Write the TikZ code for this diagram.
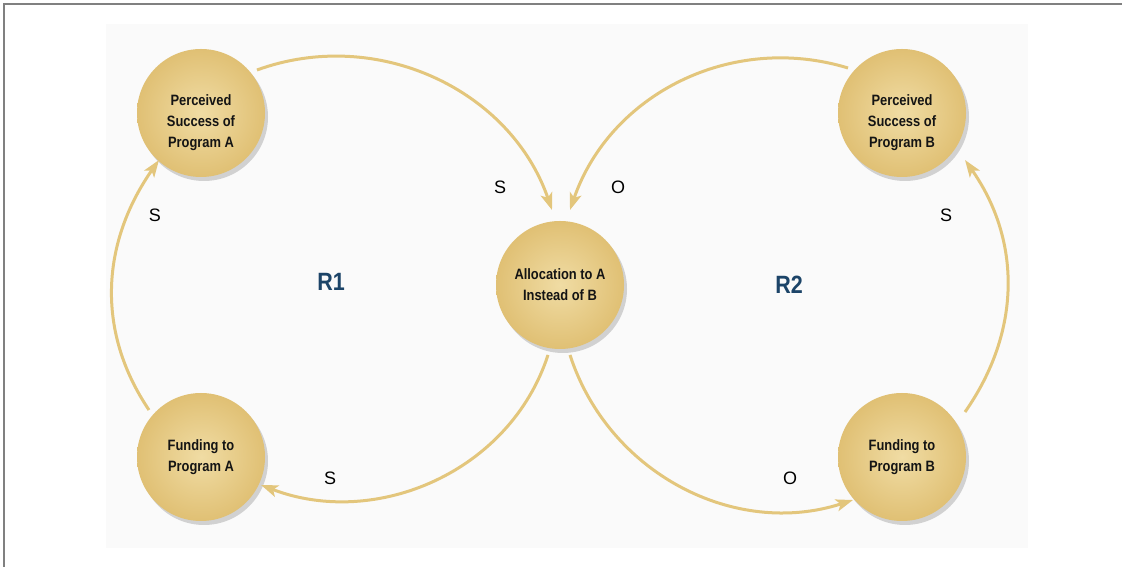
\documentclass[tikz,border=0pt]{standalone}
\usepackage{fontspec}
\setmainfont{Liberation Sans}
\newfontfamily\condfont{Liberation Sans}[FakeStretch=0.86]
\usetikzlibrary{arrows.meta,shadows,calc}
\definecolor{arrowgold}{HTML}{E3C67C}
\definecolor{goldin}{HTML}{F0DCA4}
\definecolor{goldout}{HTML}{E0C074}
\definecolor{panelbg}{HTML}{FAFAFA}
\definecolor{rblue}{HTML}{1C4468}
\tikzset{
  loopnode/.style={circle, minimum size=128pt, inner sep=0pt,
    inner color=goldin, outer color=goldout,
    drop shadow={shadow xshift=3pt, shadow yshift=-4pt, fill=black, opacity=0.16},
    align=center, text=black!92, font=\condfont\bfseries\fontsize{15}{21}\selectfont},
  nodetext/.style={align=center, text=black!92, font=\condfont\bfseries\fontsize{15}{21}\selectfont},
  conn/.style={draw=arrowgold, line width=3pt, -{Stealth[length=17pt,width=12pt,inset=4pt]}},
  pol/.style={font=\fontsize{18}{20}\selectfont, text=black},
  loopname/.style={font=\condfont\bfseries\fontsize{25}{30}\selectfont, text=rblue}
}
\begin{document}
\begin{tikzpicture}[x=1pt,y=1pt]
\useasboundingbox (0,0) rectangle (1122,567);
\fill[white] (0,0) rectangle (1122,567);
\draw[black!50, line width=1.2pt] (4,0) -- (4,563) -- (1122,563);
\fill[panelbg] (106,19) rectangle (1028,543);

\node[loopnode, label={[nodetext, yshift=-10pt]center:Perceived\\Success of\\Program A}] (PA) at (201,454) {};
\node[loopnode, label={[nodetext, yshift=-10pt]center:Perceived\\Success of\\Program B}] (PB) at (902,454) {};
\node[loopnode] (AL) at (560,282) {Allocation to A\\Instead of B};
\node[loopnode] (FA) at (201,110) {Funding to\\Program A};
\node[loopnode] (FB) at (902,110) {Funding to\\Program B};

\coordinate (a1s) at ($(FA)+(-52,47)$);
\coordinate (a1e) at ($(PA)+(-42,-47)$);
\coordinate (a2s) at ($(PA)+(56,43)$);
\coordinate (a2e) at ($(AL)+(-8,75)$);
\coordinate (a3s) at ($(PB)+(-54,45)$);
\coordinate (a3e) at ($(AL)+(10,75)$);
\coordinate (a4s) at ($(AL)+(-12,-70)$);
\coordinate (a4e) at ($(FA)+(60,-28)$);
\coordinate (a5s) at ($(AL)+(10,-70)$);
\coordinate (a5e) at ($(FB)+(-49,-43)$);
\coordinate (a6s) at ($(FB)+(63,45)$);
\coordinate (a6e) at ($(PB)+(63,-47)$);

\draw[conn] (a1s) to[out=124,in=235] (a1e);
\draw[conn] (a2s) to[out=20,in=109] (a2e);
\draw[conn] (a3s) to[out=163,in=71] (a3e);
\draw[conn] (a4s) to[out=252,in=339] (a4e);
\draw[conn] (a5s) to[out=288,in=198] (a5e);
\draw[conn] (a6s) to[out=55,in=305] (a6e);

\node[pol] (l1) at (155,352) {S};
\node[pol] (l2) at (500,380) {S};
\node[pol] (l3) at (618,380) {O};
\node[pol] (l4) at (330,89) {S};
\node[pol] (l5) at (790,89) {O};
\node[pol] (l6) at (946,352) {S};

\node[loopname] (R1) at (331,285) {R1};
\node[loopname] (R2) at (789,282) {R2};
\end{tikzpicture}
\end{document}
